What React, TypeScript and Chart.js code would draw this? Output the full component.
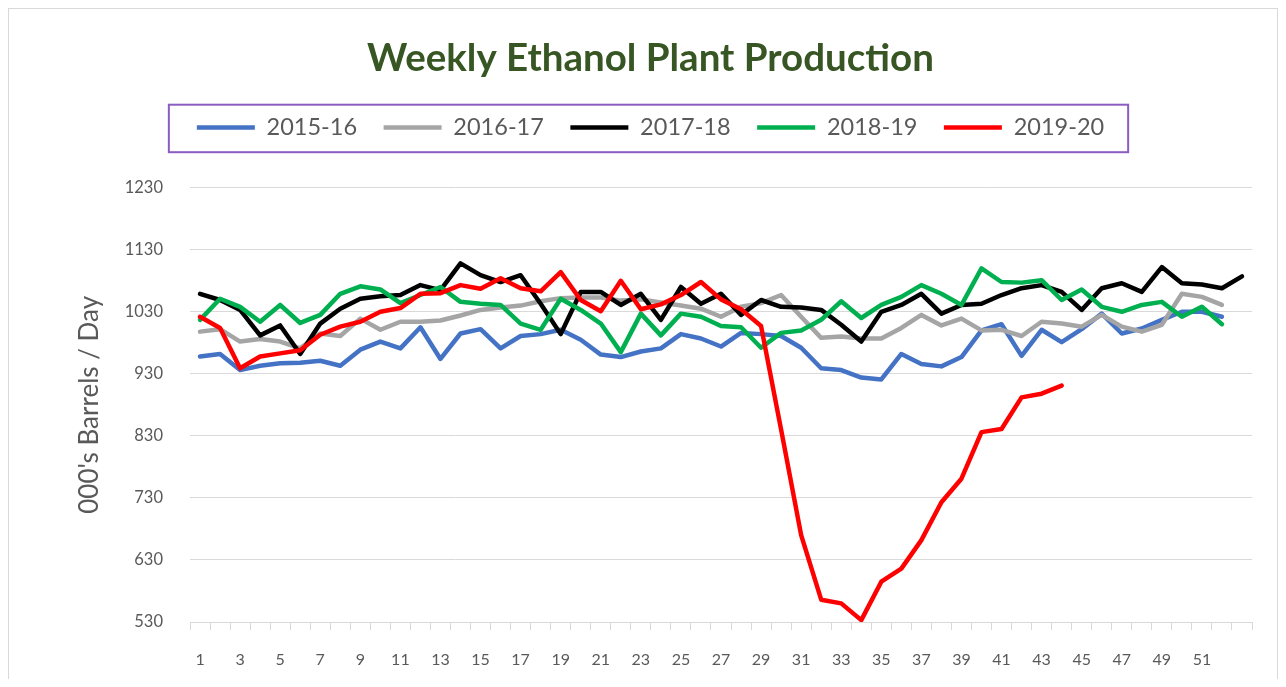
import React, { useEffect, useRef } from 'react';
import { Chart, registerables } from 'chart.js';

Chart.register(...registerables);

const weeks = [
  '1', '2', '3', '4', '5', '6', '7', '8', '9', '10', '11', '12', '13', '14', '15', '16', '17', '18',
  '19', '20', '21', '22', '23', '24', '25', '26', '27', '28', '29', '30', '31', '32', '33', '34', '35',
  '36', '37', '38', '39', '40', '41', '42', '43', '44', '45', '46', '47', '48', '49', '50', '51', '52', '53',
];

const yTicks = [530, 630, 730, 830, 930, 1030, 1130, 1230];

const s2015 = [
  958, 962, 936, 943, 947, 948, 951, 943, 969, 982,
  971, 1005, 954, 995, 1002, 971, 991, 994, 1001, 985,
  961, 957, 966, 971, 994, 987, 974, 996, 994, 991,
  972, 939, 936, 924, 921, 962, 946, 942, 957, 1000,
  1010, 959, 1001, 981, 1002, 1027, 995, 1003, 1017, 1030,
  1030, 1022,
];

const s2016 = [
  998, 1002, 982, 986, 982, 971, 995, 991, 1019, 1001,
  1014, 1014, 1016, 1024, 1033, 1037, 1040, 1047, 1052, 1053,
  1053, 1048, 1050, 1045, 1040, 1035, 1022, 1038, 1044, 1057,
  1022, 988, 990, 987, 987, 1004, 1025, 1008, 1019, 1000,
  1001, 991, 1014, 1011, 1006, 1025, 1006, 998, 1009, 1059,
  1054, 1041,
];

const s2017 = [
  1059, 1049, 1033, 992, 1008, 962, 1011, 1035, 1051, 1055,
  1057, 1073, 1065, 1108, 1089, 1078, 1089, 1043, 994, 1062,
  1062, 1041, 1059, 1017, 1070, 1043, 1059, 1025, 1049, 1038,
  1037, 1033, 1009, 982, 1030, 1041, 1059, 1027, 1041, 1043,
  1057, 1068, 1073, 1062, 1033, 1068, 1076, 1062, 1102, 1076,
  1074, 1068, 1087,
];

const s2018 = [
  1017, 1051, 1038, 1014, 1041, 1012, 1025, 1059, 1071, 1066,
  1044, 1057, 1070, 1046, 1043, 1041, 1011, 1001, 1051, 1033,
  1011, 965, 1027, 992, 1027, 1022, 1007, 1005, 972, 996,
  1000, 1017, 1047, 1020, 1041, 1054, 1073, 1059, 1041, 1100,
  1078, 1077, 1081, 1049, 1066, 1038, 1030, 1041, 1046, 1022,
  1038, 1010,
];

const s2019 = [
  1022, 1004, 939, 958, 963, 968, 993, 1006, 1014, 1030,
  1036, 1059, 1060, 1073, 1067, 1084, 1068, 1063, 1094, 1049,
  1031, 1080, 1034, 1042, 1057, 1078, 1050, 1034, 1007, 840,
  670, 566, 560, 533, 595, 616, 662, 723, 761, 836,
  841, 892, 898, 911,
];

const seriesNames = ['2015-16', '2016-17', '2017-18', '2018-19', '2019-20'];
const seriesColors = ['#4472C4', '#A5A5A5', '#000000', '#00B050', '#FF0000'];

const FONT = 'Lato, "DejaVu Sans", sans-serif';

const legendFrame = {
  id: 'legendFrame',
  afterDraw(chart: any) {
    const lg = chart.legend;
    if (!lg || !lg.legendHitBoxes || !lg.legendHitBoxes.length) return;
    const boxes = lg.legendHitBoxes;
    const left = Math.min(...boxes.map((b: any) => b.left)) - 28;
    const right = Math.max(...boxes.map((b: any) => b.left + b.width)) + 24;
    const top = Math.min(...boxes.map((b: any) => b.top)) - 11;
    const bottom = Math.max(...boxes.map((b: any) => b.top + b.height)) + 13;
    const ctx = chart.ctx;
    ctx.save();
    ctx.strokeStyle = '#8C5CC2';
    ctx.lineWidth = 2;
    ctx.strokeRect(left, top, right - left, bottom - top);
    ctx.restore();
  },
};

export default function App() {
  const ref = useRef<HTMLCanvasElement | null>(null);

  useEffect(() => {
    if (!ref.current) return;
    const all = [s2015, s2016, s2017, s2018, s2019];
    // reversed so that the last series is painted on top (as in the original)
    const datasets = all
      .map((d, i) => ({
        label: seriesNames[i],
        data: d,
        borderColor: seriesColors[i],
        backgroundColor: seriesColors[i],
        borderWidth: 4.5,
        pointRadius: 0,
        pointHoverRadius: 0,
        tension: 0,
        fill: false,
        borderCapStyle: 'round' as const,
        borderJoinStyle: 'round' as const,
        pointStyle: 'line' as const,
      }))
      .reverse();

    const chart = new Chart(ref.current, {
      type: 'line',
      data: { labels: weeks, datasets },
      plugins: [legendFrame],
      options: {
        animation: false,
        responsive: true,
        maintainAspectRatio: false,
        layout: { padding: { left: 40, right: 25, top: 0, bottom: 0 } },
        plugins: {
          tooltip: { enabled: false },
          title: {
            display: true,
            text: 'Weekly Ethanol Plant Production',
            color: '#375623',
            font: { family: FONT, size: 38.5, weight: 'bold' },
            padding: { top: 26, bottom: 8 },
          },
          subtitle: {
            display: true,
            text: '',
            weight: 500,
            font: { size: 10, lineHeight: 1 },
            padding: { top: 28.5, bottom: 0 },
          } as any,
          legend: {
            display: true,
            reverse: true,
            labels: {
              usePointStyle: true,
              pointStyleWidth: 58,
              boxHeight: 5,
              padding: 26.5,
              color: '#595959',
              font: { family: FONT, size: 23.5 },
            },
          },
        },
        scales: {
          x: {
            type: 'category',
            offset: true,
            afterFit: (s: any) => { s.height = 57; },
            grid: {
              display: true,
              offset: true,
              drawOnChartArea: false,
              drawTicks: true,
              tickLength: 8,
              color: '#D9D9D9',
            },
            border: { display: true, color: '#D9D9D9', width: 1 },
            ticks: {
              autoSkip: false,
              maxRotation: 0,
              minRotation: 0,
              padding: 20,
              color: '#595959',
              font: { family: FONT, size: 16 },
              callback: (_v: any, i: number) => (i % 2 === 0 && i < 51 ? weeks[i] : ''),
            },
          },
          y: {
            min: yTicks[0],
            max: yTicks[yTicks.length - 1],
            afterFit: (s: any) => { s.width = 141; },
            afterBuildTicks: (s: any) => { s.ticks = yTicks.map((v) => ({ value: v })); },
            grid: { color: '#D9D9D9', lineWidth: 1, drawTicks: false },
            border: { display: false },
            ticks: {
              padding: 27,
              color: '#595959',
              font: { family: FONT, size: 16.5 },
              callback: (v: any) => String(v),
            },
            title: {
              display: true,
              text: "000's Barrels / Day",
              color: '#595959',
              font: { family: FONT, size: 26 },
              padding: { top: 25.5, bottom: 0 },
            },
          },
        },
      },
    });
    return () => chart.destroy();
  }, []);

  return (
    <div
      style={{
        width: 1270,
        height: 671,
        border: '1px solid #D9D9D9',
        borderBottom: 'none',
        boxSizing: 'border-box',
        background: '#FFFFFF',
      }}
    >
      <div style={{ position: 'relative', width: 1268, height: 670 }}>
        <canvas ref={ref} />
      </div>
    </div>
  );
}
